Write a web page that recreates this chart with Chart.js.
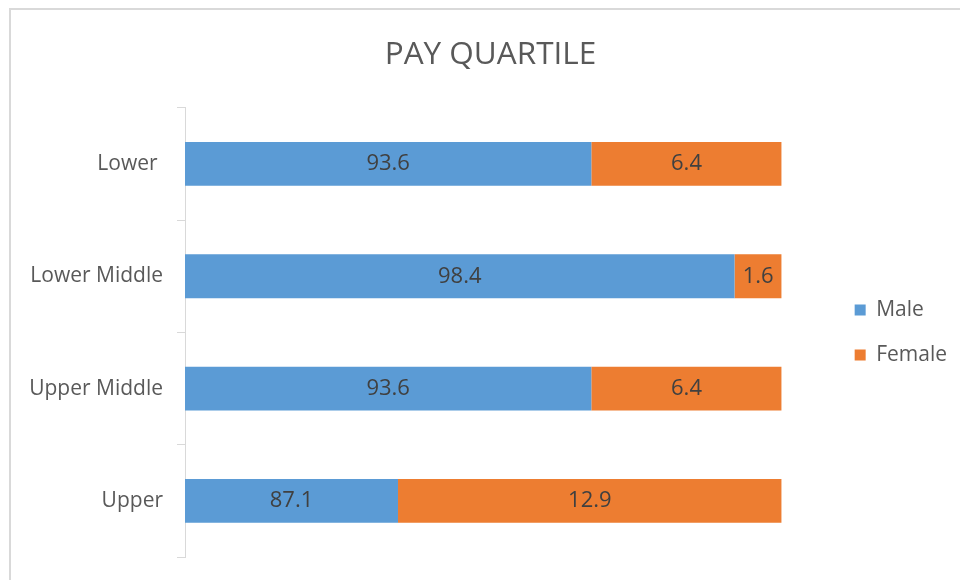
<!DOCTYPE html>
<html>
<head>
<meta charset="utf-8">
<title>Pay Quartile</title>
<script src="https://cdn.jsdelivr.net/npm/chart.js@4"></script>
<style>
  html, body { margin: 0; padding: 0; background: #ffffff; }
  #wrap { position: relative; width: 960px; height: 580px; }
</style>
</head>
<body>
<div id="wrap"><canvas id="quartileChart" width="960" height="580"></canvas></div>
<script>
// --- DATA ---
const quartiles = ['Lower ', 'Lower Middle', 'Upper Middle', 'Upper'];
// bar lengths as drawn (share of the 100% bar)
const maleShare = [68.1, 92.1, 68.1, 35.7];
const femaleShare = [31.9, 7.9, 31.9, 64.3];
// values printed on the bars
const maleLabels = ['93.6', '98.4', '93.6', '87.1'];
const femaleLabels = ['6.4', '1.6', '6.4', '12.9'];

const FONT = "'Open Sans', 'DejaVu Sans', sans-serif";
const GREY_TEXT = '#595959';
const LINE_GREY = '#d9d9d9';
const LEGEND_GAP = 49;

// thin frame at the top and left, like the cropped Excel chart
const framePlugin = {
  id: 'frame',
  beforeDraw(chart) {
    const ctx = chart.ctx;
    ctx.save();
    ctx.fillStyle = LINE_GREY;
    ctx.fillRect(9, 8, chart.width - 9, 2);
    ctx.fillRect(9, 8, 2, chart.height - 8);
    ctx.restore();
  },
};

// pushes the legend away from the plot area
const legendGapPlugin = {
  id: 'legendGap',
  beforeLayout(chart) {
    const legend = chart.legend;
    if (!legend || legend._gapPatched) return;
    const fit = legend.fit;
    legend.fit = function () {
      fit.call(this);
      this.width += LEGEND_GAP;
    };
    legend._gapPatched = true;
  },
  afterLayout(chart) {
    if (chart.legend) chart.legend.left += LEGEND_GAP;
  },
};

// labels in the middle of each segment
const barLabelPlugin = {
  id: 'barLabels',
  afterDatasetsDraw(chart) {
    const ctx = chart.ctx;
    const texts = [maleLabels, femaleLabels];
    ctx.save();
    ctx.font = `22px ${FONT}`;
    ctx.fillStyle = '#404040';
    ctx.textAlign = 'center';
    ctx.textBaseline = 'middle';
    chart.data.datasets.forEach((ds, i) => {
      chart.getDatasetMeta(i).data.forEach((bar, j) => {
        const x = (bar.x + bar.base) / 2;
        ctx.fillText(texts[i][j], x, bar.y);
      });
    });
    ctx.restore();
  },
};

const ctx = document.getElementById('quartileChart').getContext('2d');
const quartileChart = new Chart(ctx, {
  type: 'bar',
  data: {
    labels: quartiles,
    datasets: [
      {
        label: 'Male',
        data: maleShare,
        backgroundColor: '#5b9bd5',
        barPercentage: 0.39,
        categoryPercentage: 1,
      },
      {
        label: 'Female',
        data: femaleShare,
        backgroundColor: '#ed7d31',
        barPercentage: 0.39,
        categoryPercentage: 1,
      },
    ],
  },
  options: {
    indexAxis: 'y',
    responsive: false,
    animation: false,
    layout: { padding: { left: 24, right: 3, top: 0, bottom: 23 } },
    scales: {
      x: {
        stacked: true,
        min: 0,
        max: 100,
        display: false,
      },
      y: {
        stacked: true,
        grid: {
          offset: true,
          drawOnChartArea: false,
          color: LINE_GREY,
          tickLength: 8,
        },
        border: { color: LINE_GREY, width: 1 },
        ticks: {
          color: GREY_TEXT,
          font: { family: FONT, size: 21 },
          padding: 14,
        },
        afterFit(scale) {
          scale.width = 161;
          // labels sit inside their bands, no extra room needed
          scale.paddingTop = 0;
          scale.paddingBottom = 0;
        },
      },
    },
    plugins: {
      title: {
        display: true,
        text: 'PAY QUARTILE',
        color: GREY_TEXT,
        font: { family: FONT, size: 31.5, weight: 'normal' },
        padding: { top: 36, bottom: 34 },
      },
      legend: {
        position: 'right',
        fullSize: false,
        labels: {
          color: GREY_TEXT,
          font: { family: FONT, size: 21 },
          boxWidth: 11,
          boxHeight: 11,
          padding: 24,
        },
      },
      tooltip: { enabled: false },
    },
  },
  plugins: [framePlugin, legendGapPlugin, barLabelPlugin],
});
</script>
</body>
</html>
